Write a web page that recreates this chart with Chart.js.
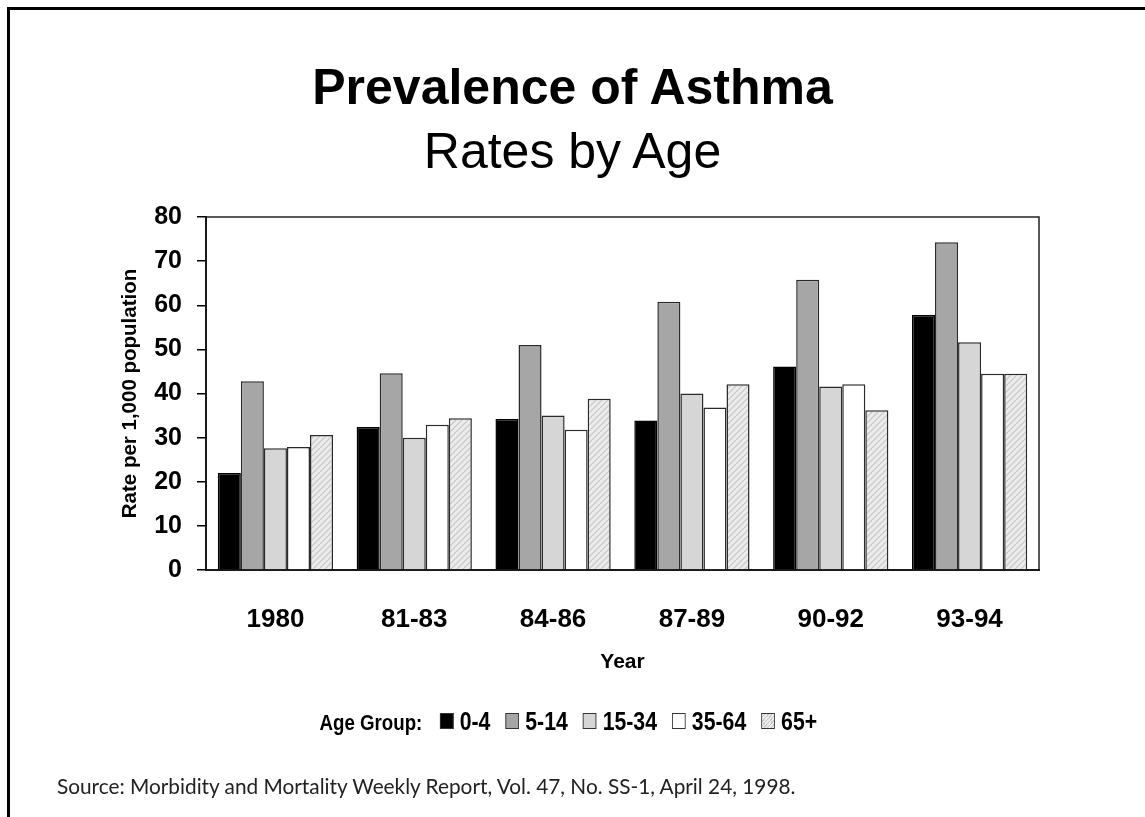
<!DOCTYPE html>
<html>
<head>
<meta charset="utf-8">
<script src="https://cdn.jsdelivr.net/npm/chart.js@4.4.1/dist/chart.umd.min.js"></script>
<style>
  html, body { margin: 0; padding: 0; background: #fff; }
  body { width: 1145px; height: 817px; position: relative; overflow: hidden;
         font-family: "Liberation Sans", Arial, sans-serif; }
  .frame { position: absolute; left: 7px; top: 7px; right: -10px; bottom: -10px;
           border-top: 3px solid #000; border-left: 3px solid #000; }
  #wrap { position: absolute; left: 0; top: 0; width: 1145px; height: 817px; }
  .t1 { position: absolute; left: 0; width: 1145px; top: 58px; text-align: center;
        font: bold 50px "Liberation Sans", Arial, sans-serif; color: #000; }
  .t2 { position: absolute; left: 0; width: 1145px; top: 122px; text-align: center;
        font: 50px "Liberation Sans", Arial, sans-serif; color: #000; }
  #legend { position: absolute; left: 0; width: 1145px; top: 707px; text-align: center;
            font: bold 25px "Liberation Sans", Arial, sans-serif;
            transform: scaleX(0.85); transform-origin: 570px 0; }
  #legend .lbl { font-size: 22px; margin-right: 12px; }
  #legend .item { display: inline-block; margin: 0 9px; }
  #legend .sw { display: inline-block; width: 14px; height: 14px; border: 1px solid #333;
                margin-right: 7px; vertical-align: 1px; }
  .src { position: absolute; left: 57px; top: 773px;
         font: 20.8px Lato, "Open Sans", sans-serif; color: #222; }
</style>
</head>
<body>
<div class="frame"></div>
<div class="t1">Prevalence of Asthma</div>
<div class="t2">Rates by Age</div>
<div id="wrap"><canvas id="c" width="1145" height="817"></canvas></div>
<div id="legend"></div>
<div class="src">Source: Morbidity and Mortality Weekly Report, Vol. 47, No. SS-1, April 24, 1998.</div>
<script>
"use strict";

/* ── Data ─────────────────────────────────────────────── */
const YEARS    = ['1980', '81-83', '84-86', '87-89', '90-92', '93-94'];
const AGE_0_4  = [22.0, 32.4, 34.2, 33.9, 46.1, 57.8];
const AGE_5_14 = [42.8, 44.6, 51.0, 60.8, 65.8, 74.3];
const AGE_15_34 = [27.6, 30.0, 35.0, 40.0, 41.6, 51.6];
const AGE_35_64 = [27.9, 32.9, 31.8, 36.8, 42.1, 44.5];
const AGE_65   = [30.6, 34.4, 38.8, 42.1, 36.2, 44.5];
const GROUPS   = ['0-4', '5-14', '15-34', '35-64', '65+'];
const Y_TICKS  = [0, 10, 20, 30, 40, 50, 60, 70, 80];

const SANS = '"Liberation Sans", Arial, sans-serif';

/* hatched fill for 65+ */
function hatch() {
  const p = document.createElement('canvas');
  p.width = 6; p.height = 6;
  const g = p.getContext('2d');
  g.fillStyle = '#ececec';
  g.fillRect(0, 0, 6, 6);
  g.strokeStyle = '#c4c4c4';
  g.lineWidth = 1.2;
  g.beginPath();
  g.moveTo(0, 6); g.lineTo(6, 0);
  g.moveTo(-3, 3); g.lineTo(3, -3);
  g.moveTo(3, 9); g.lineTo(9, 3);
  g.stroke();
  return g.createPattern(p, 'repeat');
}

const FILLS   = ['#000000', '#a6a6a6', '#d6d6d6', '#ffffff', hatch()];
const SWATCH  = ['#000', '#a6a6a6', '#d6d6d6', '#fff',
  'repeating-linear-gradient(-45deg, #ececec 0 2px, #c4c4c4 2px 3px)'];
const SERIES  = [AGE_0_4, AGE_5_14, AGE_15_34, AGE_35_64, AGE_65];

/* plot frame (top & right edges) */
const boxPlugin = {
  id: 'box',
  beforeDatasetsDraw(chart) {
    const { ctx, chartArea: a } = chart;
    ctx.save();
    ctx.strokeStyle = '#222';
    ctx.lineWidth = 1.5;
    ctx.strokeRect(a.left, a.top, a.right - a.left, a.bottom - a.top);
    ctx.restore();
  },
};

const chart = new Chart(document.getElementById('c'), {
  type: 'bar',
  data: {
    labels: YEARS,
    datasets: GROUPS.map((g, i) => ({
      label: g,
      data: SERIES[i],
      backgroundColor: FILLS[i],
      borderColor: i === 0 ? '#000' : '#2a2a2a',
      borderWidth: 1.5,
      borderSkipped: 'bottom',
      categoryPercentage: 0.83,
      barPercentage: 1.0,
    })),
  },
  plugins: [boxPlugin],
  options: {
    responsive: false,
    animation: false,
    layout: { padding: { left: 118, top: 217, right: 106, bottom: 137 } },
    plugins: { legend: { display: false }, tooltip: { enabled: false } },
    scales: {
      x: {
        grid: { display: false, drawTicks: false },
        border: { display: true, color: '#000', width: 2 },
        ticks: { color: '#000', padding: 34, font: { family: SANS, size: 26, weight: 'bold' } },
        title: { display: true, text: 'Year', color: '#000', padding: { top: 0, bottom: 5 },
                 font: { family: SANS, size: 21, weight: 'bold' } },
        afterFit(s) { s.height = 110; },
      },
      y: {
        min: 0, max: 80,
        afterBuildTicks(s) { s.ticks = Y_TICKS.map(v => ({ value: v })); },
        grid: { drawOnChartArea: false, drawTicks: true, tickLength: 9, color: '#000', lineWidth: 1.5 },
        border: { display: true, color: '#000', width: 2 },
        ticks: { color: '#000', padding: 15, font: { family: SANS, size: 25, weight: 'bold' } },
        title: { display: true, text: 'Rate per 1,000 population', color: '#000',
                 padding: { top: 0, bottom: 0 }, font: { family: SANS, size: 20.5, weight: 'bold' } },
        afterFit(s) { s.width = 88; },
      },
    },
  },
});

/* ── HTML legend ───────────────────────────────────────── */
const legend = document.getElementById('legend');
legend.innerHTML = '<span class="lbl">Age Group:</span>' + chart.data.datasets.map((d, i) =>
  `<span class="item"><span class="sw" style="background:${SWATCH[i]}"></span>${d.label}</span>`
).join('');
</script>
</body>
</html>
